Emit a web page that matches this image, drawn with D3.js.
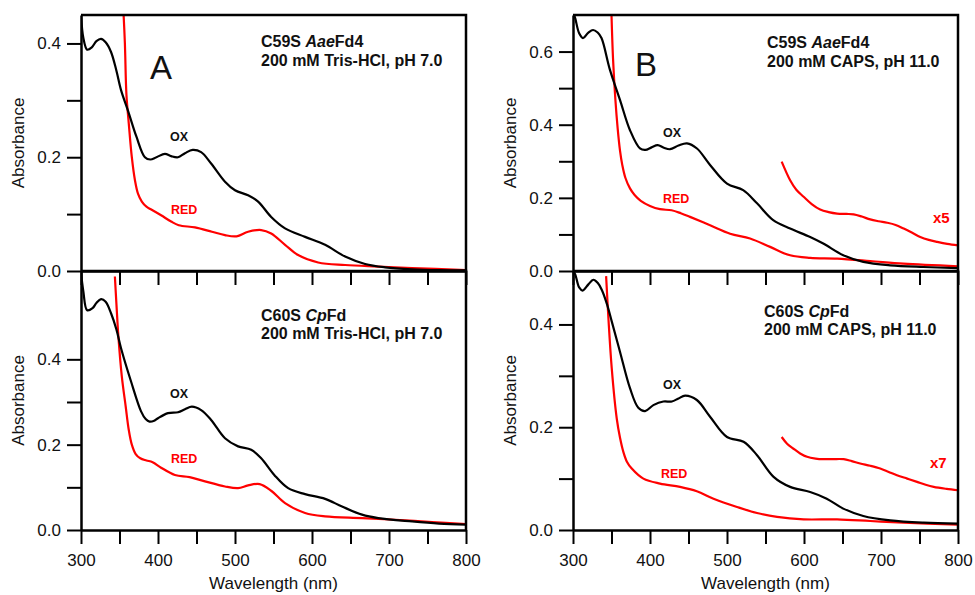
<!DOCTYPE html>
<html>
<head>
<meta charset="utf-8">
<script src="https://cdn.jsdelivr.net/npm/d3@7"></script>
<style>
body{margin:0;background:#fff;}
svg text{font-family:"Liberation Sans",Arial,sans-serif;fill:#111;}
</style>
</head>
<body>
<svg id="chart" width="975" height="595"></svg>
<script>
// spectra: [wavelength nm, absorbance]
// A top : C59S AaeFd4, Tris-HCl pH 7.0
var aOx = [[300,0.452],[303,0.41],[308,0.389],[314,0.393],[320,0.404],[326,0.408],[332,0.402],[339,0.385],[346,0.352],[352,0.318],[361,0.282],[372,0.236],[383,0.2],[390,0.196],[398,0.2],[409,0.206],[417,0.202],[426,0.2],[435,0.207],[445,0.213],[456,0.209],[469,0.189],[487,0.157],[500,0.142],[517,0.133],[530,0.122],[547,0.095],[565,0.075],[591,0.06],[617,0.046],[643,0.0255],[669,0.0123],[695,0.0065],[730,0.003],[765,0.0015],[800,0.001]];
var aRed = [[355,0.46],[357,0.40],[359,0.31],[362,0.26],[366,0.2],[370,0.16],[374,0.136],[379,0.122],[385,0.113],[390,0.109],[404,0.098],[417,0.087],[427,0.0805],[448,0.0766],[470,0.069],[487,0.063],[502,0.061],[517,0.069],[534,0.072],[547,0.066],[565,0.046],[582,0.028],[608,0.015],[643,0.0105],[686,0.0078],[730,0.0053],[800,0.0018]];
// A bottom : C60S CpFd, Tris-HCl pH 7.0
var cOx = [[300,0.603],[303,0.56],[308,0.515],[315,0.52],[320,0.532],[326,0.541],[332,0.535],[339,0.508],[346,0.47],[352,0.426],[365,0.348],[378,0.278],[384,0.26],[389,0.254],[395,0.256],[400,0.262],[413,0.274],[426,0.276],[435,0.283],[444,0.289],[456,0.281],[469,0.258],[487,0.215],[504,0.196],[521,0.188],[534,0.168],[551,0.129],[569,0.098],[591,0.084],[617,0.073],[639,0.055],[665,0.036],[686,0.028],[730,0.02],[765,0.015],[800,0.0125]];
var cRed = [[344,0.594],[346,0.53],[348.5,0.455],[353,0.36],[358,0.29],[362,0.235],[366,0.2],[371,0.178],[377,0.168],[385,0.163],[393,0.159],[404,0.146],[422,0.129],[441,0.124],[461,0.114],[487,0.102],[504,0.098],[517,0.1045],[532,0.1076],[547,0.092],[565,0.063],[591,0.04],[617,0.032],[665,0.028],[708,0.024],[756,0.0187],[800,0.014]];
// B top : C59S AaeFd4, CAPS pH 11.0
var bOx = [[300,0.71],[303,0.69],[308,0.65],[313,0.637],[320,0.652],[326,0.659],[332,0.652],[337,0.637],[348,0.55],[361,0.468],[374,0.385],[387,0.335],[394,0.331],[402,0.338],[410,0.344],[418,0.337],[426,0.333],[437,0.343],[448,0.349],[461,0.335],[478,0.29],[500,0.239],[521,0.221],[539,0.185],[560,0.139],[582,0.116],[608,0.093],[625,0.075],[651,0.043],[677,0.025],[712,0.0156],[755,0.011],[800,0.008]];
var bRed = [[350,0.70],[352,0.58],[355,0.47],[358,0.39],[361,0.33],[364,0.29],[368,0.255],[374,0.226],[380,0.208],[388,0.192],[400,0.178],[413,0.169],[428,0.166],[440,0.158],[452,0.148],[478,0.125],[504,0.102],[530,0.089],[556,0.066],[582,0.043],[608,0.036],[643,0.034],[686,0.0274],[729,0.02],[800,0.013]];
var bX5 = [[571,0.299],[582,0.248],[590,0.222],[599.5,0.203],[610,0.183],[621,0.168],[632,0.161],[643,0.157],[655,0.156],[664.5,0.155],[675,0.149],[686,0.141],[697,0.136],[708,0.132],[719,0.126],[729.5,0.116],[740,0.105],[751,0.093],[762,0.085],[773,0.0795],[786,0.074],[800,0.07]];
// B bottom : C60S CpFd, CAPS pH 11.0
var dOx = [[300,0.505],[303,0.497],[308,0.472],[312.6,0.466],[320,0.478],[326.4,0.487],[332,0.481],[337.3,0.4675],[344,0.44],[350.3,0.406],[361,0.347],[374,0.276],[384.8,0.238],[393.6,0.2315],[404.4,0.243],[417.4,0.25],[428.3,0.25],[437,0.256],[445.6,0.2615],[460.8,0.253],[478,0.2205],[500,0.181],[521.5,0.1717],[539,0.1456],[560.5,0.1034],[582,0.0839],[608,0.074],[629.5,0.061],[651,0.0416],[677,0.0273],[712,0.0187],[755.5,0.0142],[800,0.0123]];
var dRed = [[343,0.494],[346,0.412],[350.3,0.315],[356.8,0.217],[361,0.18],[365.4,0.152],[370,0.133],[376.3,0.1196],[391.4,0.1],[413,0.0903],[439,0.0839],[460.8,0.0754],[482.5,0.061],[513,0.0449],[539,0.033],[565,0.0254],[599.5,0.0207],[643,0.0207],[686,0.0175],[729.5,0.0142],[800,0.0103]];
var dX7 = [[571,0.181],[578,0.168],[586,0.1586],[595,0.149],[604,0.1424],[615,0.139],[625.5,0.1378],[638,0.138],[651.5,0.1378],[662,0.134],[673,0.1294],[686,0.125],[699,0.1196],[710,0.113],[720.7,0.1066],[734,0.1],[746.8,0.0937],[758,0.088],[768.5,0.0839],[785,0.08],[800,0.0773]];

var xTicks = [300,350,400,450,500,550,600,650,700,750,800];
var yTicksAtop = [0,0.1,0.2,0.3,0.4];
var yTicksAbot = [0,0.1,0.2,0.3,0.4];
var yTicksBtop = [0,0.1,0.2,0.3,0.4,0.5,0.6];
var yTicksBbot = [0,0.1,0.2,0.3,0.4];
var yMax = [0.45, 0.607, 0.70, 0.504];

var panels = [
  {id:'a', left:81, right:466, top:15, bottom:271, ymax:yMax[0], yticks:yTicksAtop, xlabels:false,
   ox:aOx, red:aRed, extra:null, letter:'A', letterPos:[150,79],
   title:['C59S ','Aae','Fd4'], sub:'200 mM Tris-HCl, pH 7.0', titlePos:[261,47,66],
   oxPos:[170,141], redPos:[171,214]},
  {id:'c', left:81, right:466, top:271, bottom:530, ymax:yMax[1], yticks:yTicksAbot, xlabels:true,
   ox:cOx, red:cRed, extra:null, letter:null,
   title:['C60S ','Cp','Fd'], sub:'200 mM Tris-HCl, pH 7.0', titlePos:[261,321,339],
   oxPos:[170,398], redPos:[171,463]},
  {id:'b', left:573, right:958, top:15, bottom:271, ymax:yMax[2], yticks:yTicksBtop, xlabels:false,
   ox:bOx, red:bRed, extra:bX5, extraLabel:'x5', extraPos:[933,223], letter:'B', letterPos:[635,76],
   title:['C59S ','Aae','Fd4'], sub:'200 mM CAPS, pH 11.0', titlePos:[767,48,67],
   oxPos:[663,137], redPos:[663,203]},
  {id:'d', left:573, right:958, top:271, bottom:530, ymax:yMax[3], yticks:yTicksBbot, xlabels:true,
   ox:dOx, red:dRed, extra:dX7, extraLabel:'x7', extraPos:[930,468], letter:null,
   title:['C60S ','Cp','Fd'], sub:'200 mM CAPS, pH 11.0', titlePos:[764,317,335],
   oxPos:[663,389], redPos:[661,478]}
];

var svg = d3.select('#chart');
var RED = '#ff0000';

panels.forEach(function(p){
  var x = d3.scaleLinear().domain([300,800]).range([p.left,p.right]);
  var y = d3.scaleLinear().domain([0,p.ymax]).range([p.bottom,p.top]);
  var g = svg.append('g').attr('class','panel '+p.id);

  //clip the spectra to the plot box
  svg.append('clipPath').attr('id','clip-'+p.id)
    .append('rect')
    .attr('x',p.left).attr('y',p.top)
    .attr('width',p.right-p.left).attr('height',p.bottom-p.top);

  var line = d3.line()
    .x(function(d){return x(d[0])})
    .y(function(d){return y(d[1])})
    .curve(d3.curveCatmullRom.alpha(0.5));

  var curves = g.append('g').attr('clip-path','url(#clip-'+p.id+')');
  curves.append('path').datum(p.red)
    .attr('d',line).attr('fill','none').attr('stroke',RED).attr('stroke-width',2.2);
  if (p.extra) {
    curves.append('path').datum(p.extra)
      .attr('d',line).attr('fill','none').attr('stroke',RED).attr('stroke-width',2.2);
  }
  curves.append('path').datum(p.ox)
    .attr('d',line).attr('fill','none').attr('stroke','#000').attr('stroke-width',2.2);

  //frame top and right
  g.append('path')
    .attr('d','M'+p.left+','+p.top+'H'+p.right+'V'+p.bottom)
    .attr('fill','none').attr('stroke','#000').attr('stroke-width',2.5);

  //axes
  var xAxis = d3.axisBottom(x).tickValues(xTicks).tickSize(14).tickSizeOuter(0).tickPadding(10)
    .tickFormat(function(d){return p.xlabels && d%100===0 ? d : ''});
  var gx = g.append('g').attr('transform','translate(0,'+p.bottom+')').call(xAxis);

  var yAxis = d3.axisLeft(y).tickValues(p.yticks).tickSize(14).tickSizeOuter(0).tickPadding(6)
    .tickFormat(function(d){return Math.round(d*10)%2===0 ? d3.format('.1f')(d) : ''});
  var gy = g.append('g').attr('transform','translate('+p.left+',0)').call(yAxis);

  [gx,gy].forEach(function(a){
    a.select('.domain').attr('stroke','#000').attr('stroke-width',2.5);
    a.selectAll('.tick line').attr('stroke','#000').attr('stroke-width',2);
    a.selectAll('.tick text').attr('font-size',17).attr('fill','#111')
      .style('font-family','"Liberation Sans",Arial,sans-serif');
  });

  //y label
  g.append('text')
    .attr('transform','translate('+(p.left-57)+','+((p.top+p.bottom)/2)+') rotate(-90)')
    .attr('text-anchor','middle').attr('font-size',17)
    .text('Absorbance');

  if (p.xlabels) {
    g.append('text')
      .attr('x',(p.left+p.right)/2).attr('y',589)
      .attr('text-anchor','middle').attr('font-size',17)
      .text('Wavelength (nm)');
  }

  if (p.letter) {
    g.append('text').attr('x',p.letterPos[0]).attr('y',p.letterPos[1])
      .attr('font-size',33).text(p.letter);
  }

  //sample annotation
  var t = g.append('text').attr('x',p.titlePos[0]).attr('y',p.titlePos[1])
    .attr('font-size',16).attr('font-weight','bold');
  t.append('tspan').text(p.title[0]);
  t.append('tspan').attr('font-style','italic').text(p.title[1]);
  t.append('tspan').text(p.title[2]);
  g.append('text').attr('x',p.titlePos[0]).attr('y',p.titlePos[2])
    .attr('font-size',16).attr('font-weight','bold').text(p.sub);

  //curve labels
  g.append('text').attr('x',p.oxPos[0]).attr('y',p.oxPos[1])
    .attr('font-size',12.5).attr('font-weight','bold').text('OX');
  g.append('text').attr('x',p.redPos[0]).attr('y',p.redPos[1])
    .attr('font-size',12.5).attr('font-weight','bold').style('fill',RED).text('RED');
  if (p.extra) {
    g.append('text').attr('x',p.extraPos[0]).attr('y',p.extraPos[1])
      .attr('font-size',15).attr('font-weight','bold').style('fill',RED).text(p.extraLabel);
  }
});
</script>
</body>
</html>
